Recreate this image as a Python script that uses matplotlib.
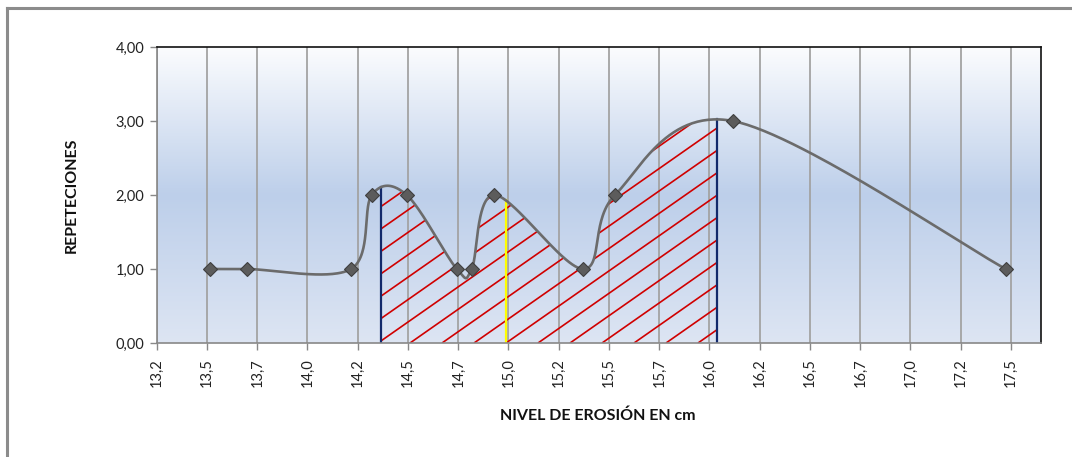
import numpy as np
import matplotlib
matplotlib.use("Agg")
import matplotlib.pyplot as plt
from matplotlib.colors import LinearSegmentedColormap
from matplotlib.collections import LineCollection
from matplotlib.patches import Polygon
from matplotlib.lines import Line2D

# Erosion level (cm) and number of repetitions
nivel = [13.465, 13.651, 14.167, 14.270, 14.444, 14.693, 14.767, 14.880,
         15.322, 15.480, 16.066, 17.424]
repeticiones = [1, 1, 1, 2, 2, 1, 1, 2, 1, 2, 3, 1]

# Shaded interval bounds and the central reference line
limite_inf = 14.316
limite_sup = 15.986
centro = 14.938

x_ticks = [13.2 + 0.25 * k for k in range(18)]
x_labels = ["13,2", "13,5", "13,7", "14,0", "14,2", "14,5", "14,7", "15,0",
            "15,2", "15,5", "15,7", "16,0", "16,2", "16,5", "16,7", "17,0",
            "17,2", "17,5"]
y_ticks = [0, 1, 2, 3, 4]
y_labels = ["0,00", "1,00", "2,00", "3,00", "4,00"]

XMIN, XMAX = 13.2, 17.598
YMIN, YMAX = 0.0, 4.0

plt.rcParams["font.family"] = ["Lato", "DejaVu Sans"]


def smooth_curve(xs, ys, n=60):
    """Cubic Bezier smoothing through every point (Catmull-Rom style)."""
    pts = np.column_stack([xs, ys]).astype(float)
    P = np.vstack([pts[0], pts, pts[-1]])
    out = []
    t = np.linspace(0, 1, n)[:, None]
    for i in range(1, len(P) - 2):
        p0, p1, p2, p3 = P[i - 1], P[i], P[i + 1], P[i + 2]
        c1 = p1 + (p2 - p0) / 6.0
        c2 = p2 - (p3 - p1) / 6.0
        seg = ((1 - t) ** 3) * p1 + 3 * ((1 - t) ** 2) * t * c1 \
            + 3 * (1 - t) * t ** 2 * c2 + t ** 3 * p2
        out.append(seg if i == 1 else seg[1:])
    return np.vstack(out)


def curve_at(curve, xq):
    cx, cy = curve[:, 0], curve[:, 1]
    for j in range(len(cx) - 1):
        a, b = cx[j], cx[j + 1]
        if (a - xq) * (b - xq) <= 0 and a != b:
            f = (xq - a) / (b - a)
            return cy[j] + f * (cy[j + 1] - cy[j])
    return float(np.interp(xq, cx, cy))


curve = smooth_curve(nivel, repeticiones)

W, H = 1072, 457
fig = plt.figure(figsize=(W / 100, H / 100), dpi=100)
fig.patch.set_facecolor("white")
ax_l, ax_r, ax_t, ax_b = 156.7, 1040.7, 47, 343
ax = fig.add_axes([ax_l / W, 1 - ax_b / H, (ax_r - ax_l) / W, (ax_b - ax_t) / H])
ax.set_xlim(XMIN, XMAX)
ax.set_ylim(YMIN, YMAX)

# Plot-area gradient background
grad = LinearSegmentedColormap.from_list(
    "fondo", [(0.0, "#dde5f3"), (0.5, "#bdcfea"), (1.0, "#fbfcfe")])
g = np.linspace(0, 1, 256)[:, None]
ax.imshow(g, extent=(XMIN, XMAX, YMIN, YMAX), origin="lower", aspect="auto",
          cmap=grad, zorder=0, interpolation="bicubic")

# Vertical grid lines
for xt in x_ticks:
    ax.axvline(xt, color="#a3a3a3", lw=1.3, zorder=1)

# Hatched area under the curve between the two limits
inside = curve[(curve[:, 0] > limite_inf) & (curve[:, 0] < limite_sup)]
y_inf = curve_at(curve, limite_inf)
y_sup = curve_at(curve, limite_sup)
y_cen = curve_at(curve, centro)
poly_pts = np.vstack([[limite_inf, 0], [limite_inf, y_inf], inside,
                      [limite_sup, y_sup], [limite_sup, 0]])
region = Polygon(poly_pts, closed=True, facecolor="none", edgecolor="none",
                 transform=ax.transData)
ax.add_patch(region)

ppx = (ax_r - ax_l) / (XMAX - XMIN)
ppy = (ax_b - ax_t) / (YMAX - YMIN)
ang = np.deg2rad(35)
step_px = 32.0
dx_dir = np.cos(ang) / ppx
dy_dir = np.sin(ang) / ppy
segs = []
k0 = int(np.floor((limite_inf - centro) * ppx / step_px)) - 40
for k in range(k0, k0 + 120):
    x0 = centro + k * step_px / ppx
    segs.append([(x0, 0), (x0 + 400 * dx_dir, 400 * dy_dir)])
hatch = LineCollection(segs, colors="#d00000", linewidths=1.2, zorder=2)
ax.add_collection(hatch)
hatch.set_clip_path(region)

# Limit lines
ax.plot([limite_inf, limite_inf], [0, y_inf], color="#12296b", lw=1.6, zorder=3)
ax.plot([limite_sup, limite_sup], [0, y_sup], color="#12296b", lw=1.6, zorder=3)
ax.plot([centro, centro], [0, y_cen], color="#ffff00", lw=1.6, zorder=3)

# Smoothed series with diamond markers
ax.plot(curve[:, 0], curve[:, 1], color="#6b6b6b", lw=1.9, zorder=4,
        solid_capstyle="round")
ax.plot(nivel, repeticiones, linestyle="none", marker="D", markersize=7.3,
        markerfacecolor="#5c5c5c", markeredgecolor="#3f3f3f",
        markeredgewidth=0.8, zorder=5)

# Axes styling
ax.set_xticks(x_ticks)
ax.set_xticklabels(x_labels, rotation=90, fontsize=10.5, color="#222222")
ax.set_yticks(y_ticks)
ax.set_yticklabels(y_labels, fontsize=10.5, color="#222222")
ax.tick_params(axis="both", direction="out", length=5, width=1,
               color="#888888")
ax.tick_params(axis="x", pad=6)
ax.tick_params(axis="y", pad=4)
for side in ("left", "bottom"):
    ax.spines[side].set_color("#888888")
    ax.spines[side].set_linewidth(1.2)
for side in ("top", "right"):
    ax.spines[side].set_color("#111111")
    ax.spines[side].set_linewidth(1.2)
for sp in ax.spines.values():
    sp.set_zorder(6)

fig.text(72 / W, 1 - 195 / H, "REPETECIONES", rotation=90, ha="center",
         va="center", fontsize=11.5, fontweight="bold", color="#111111")
fig.text(598 / W, 1 - 416 / H, "NIVEL DE EROSIÓN EN cm", ha="center",
         va="center", fontsize=11.5, fontweight="bold", color="#111111")

# Chart frame (top and left edges)
fig.add_artist(Line2D([7 / W, 7 / W], [0, 1 - 8 / H], color="#8c8c8c", lw=2.2,
                      transform=fig.transFigure))
fig.add_artist(Line2D([7 / W, 1], [1 - 8 / H, 1 - 8 / H], color="#8c8c8c",
                      lw=2.2, transform=fig.transFigure))

fig.savefig("out.png", dpi=100)
